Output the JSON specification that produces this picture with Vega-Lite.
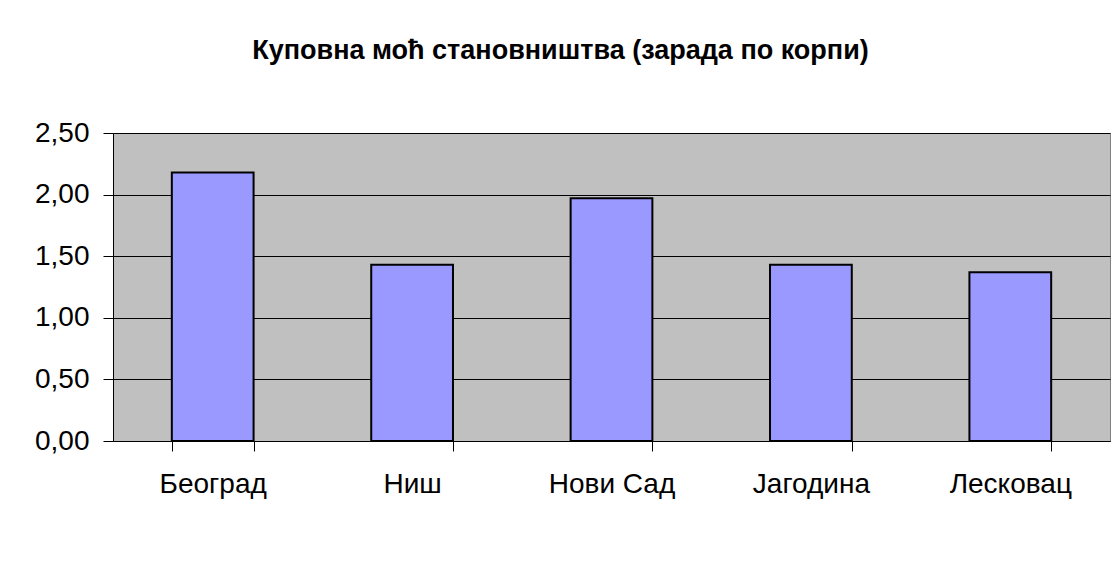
{
  "$schema": "https://vega.github.io/schema/vega-lite/v6.json",
  "autosize": {"type": "none"},
  "padding": {"left": 113, "top": 133, "right": 4, "bottom": 134},
  "width": 997,
  "height": 308,
  "background": "white",
  "title": {
    "text": "Куповна моћ становништва (зарада по корпи)",
    "font": "Liberation Sans",
    "fontSize": 27,
    "fontWeight": "bold",
    "color": "black",
    "anchor": "middle",
    "dx": -51,
    "offset": 54
  },
  "data": {
    "values": [
      {"city": "Београд", "value": 2.18},
      {"city": "Ниш", "value": 1.43},
      {"city": "Нови Сад", "value": 1.97},
      {"city": "Јагодина", "value": 1.43},
      {"city": "Лесковац", "value": 1.37}
    ]
  },
  "mark": {"type": "bar", "fill": "#9999FF", "stroke": "black", "strokeWidth": 2},
  "encoding": {
    "x": {
      "field": "city",
      "type": "nominal",
      "sort": null,
      "scale": {"paddingInner": 0.59, "paddingOuter": 0.295},
      "axis": {
        "title": null,
        "labelAngle": 0,
        "labelFont": "Liberation Sans",
        "labelFontSize": 28,
        "labelColor": "black",
        "labelPadding": 19,
        "tickBand": "extent",
        "tickSize": 10,
        "tickColor": "black",
        "domainColor": "black",
        "domainWidth": 1,
        "grid": false
      }
    },
    "y": {
      "field": "value",
      "type": "quantitative",
      "scale": {"domain": [0, 2.5], "nice": false},
      "axis": {
        "title": null,
        "values": [0, 0.5, 1, 1.5, 2, 2.5],
        "format": ".2f",
        "labelExpr": "replace(datum.label, '.', ',')",
        "labelFont": "Liberation Sans",
        "labelFontSize": 28,
        "labelColor": "black",
        "labelPadding": 14,
        "tickSize": 10,
        "tickColor": "black",
        "domainColor": "black",
        "grid": true,
        "gridColor": "black",
        "gridOpacity": 1,
        "gridWidth": 1
      }
    }
  },
  "config": {
    "view": {"fill": "#C0C0C0", "stroke": "#808080", "strokeWidth": 1}
  }
}
